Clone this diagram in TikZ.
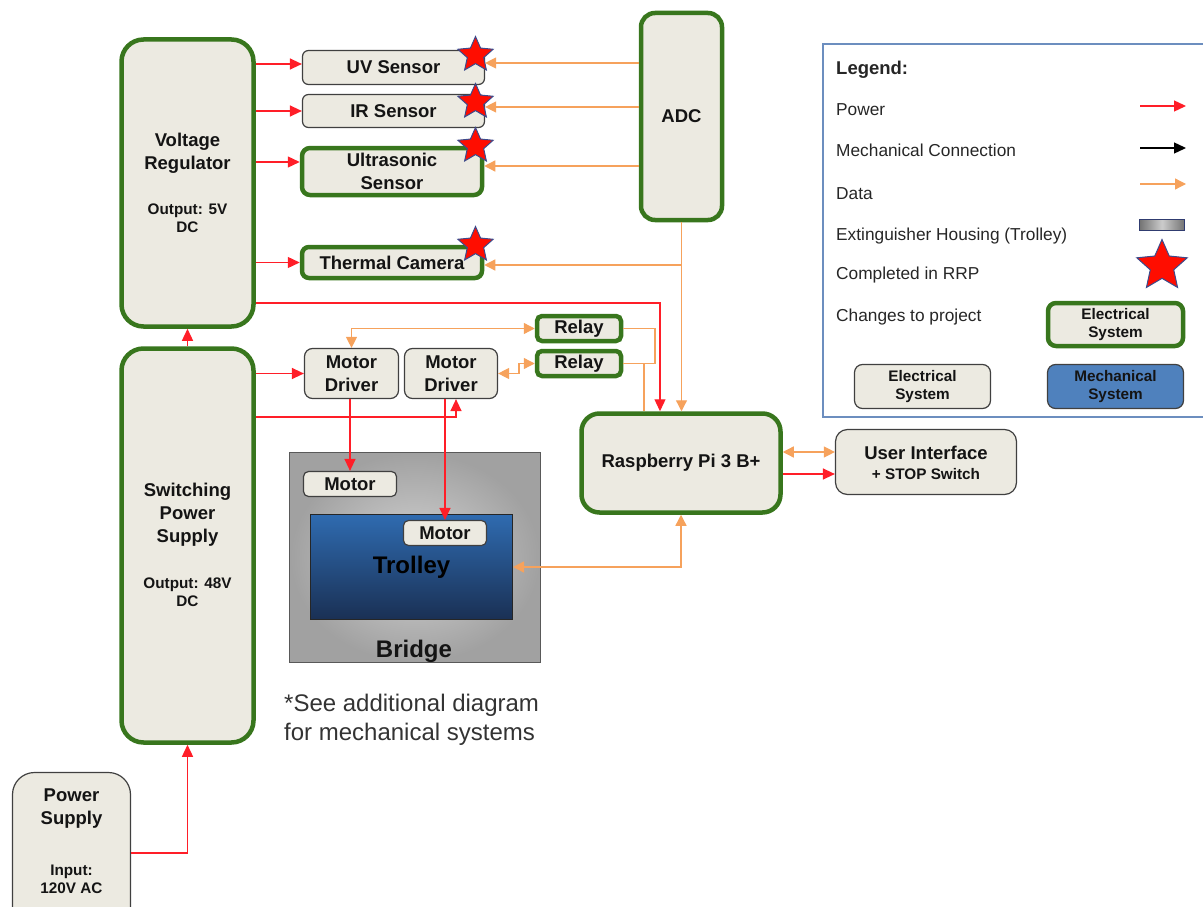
\documentclass[tikz,border=0pt]{standalone}
\usepackage{fontspec}
\setmainfont{Liberation Sans}
\usetikzlibrary{arrows.meta,shapes.geometric,calc}
\definecolor{beige}{RGB}{236,234,225}
\definecolor{grn}{RGB}{56,118,29}
\definecolor{org}{RGB}{246,162,92}
\definecolor{rd}{RGB}{255,30,40}
\definecolor{lgb}{RGB}{108,142,191}
\definecolor{mech}{RGB}{79,129,189}
\definecolor{txt}{RGB}{20,20,20}
\definecolor{stb}{RGB}{60,75,140}
\definecolor{trtop}{RGB}{47,107,176}
\definecolor{trbot}{RGB}{26,48,84}
\newcommand{\fbig}{\fontsize{18.5}{23}\selectfont\bfseries}
\newcommand{\fsm}{\fontsize{15.3}{18}\selectfont\bfseries}
\newcommand{\flg}{\fontsize{17.3}{21}\selectfont}
\tikzset{
 ebox/.style={draw=black!75, line width=1.2pt, fill=beige, rounded corners=6pt, inner sep=0pt, text=txt, font=\fbig, align=center},
 gbox/.style={draw=grn, line width=4.5pt, fill=beige, rounded corners=10pt, inner sep=0pt, text=txt, font=\fbig, align=center},
 txtb/.style={inner sep=0pt, text=txt, font=\fbig, align=center},
 txts/.style={inner sep=0pt, text=txt, font=\fsm, align=center},
 lgtxt/.style={inner sep=0pt, text=black!85, font=\flg, anchor=base west},
 pw/.style={draw=rd, line width=1.3pt, -{Triangle[length=12pt,width=11pt]}},
 dt/.style={draw=org, line width=1.3pt, -{Triangle[length=11pt,width=11pt]}},
 dtb/.style={draw=org, line width=1.3pt, {Triangle[length=11pt,width=11pt]}-{Triangle[length=11pt,width=11pt]}},
 dtl/.style={draw=org, line width=1.3pt},
 rrpstar/.style={star, star points=5, star point ratio=2.15, fill=red!90!orange, draw=stb, line width=1pt, inner sep=0pt},
}
\begin{document}
\begin{tikzpicture}[x=1pt,y=-1pt]
\useasboundingbox (0,0) rectangle (1203,907);
\clip (0,0) rectangle (1203,907);

% ---------- power blocks ----------
\node[gbox, rounded corners=22pt, minimum width=132pt, minimum height=287pt] (vr) at (187.5,183) {};
\node[txtb] (vrt) at (187.5,153.5) {Voltage\\Regulator};
\node[txts] (vrs) at (187.5,218.5) {Output: 5V\\DC};

\node[gbox, rounded corners=22pt, minimum width=132pt, minimum height=394pt] (sps) at (187.5,545.5) {};
\node[txtb] (spst) at (187.5,515) {Switching\\Power\\Supply};
\node[txts] (spss) at (187.5,592.5) {Output: 48V\\DC};

\node[ebox, rounded corners=22pt, minimum width=118pt, minimum height=161pt] (ps) at (71.5,853) {};
\node[txtb] (pst) at (71.5,809) {Power\\Supply};
\node[txts] (pss) at (71.5,879) {Input:\\120V AC};

% ---------- sensors ----------
\node[ebox, minimum width=182pt, minimum height=34pt] (uv) at (393.5,67.5) {UV Sensor};
\node[ebox, minimum width=182pt, minimum height=33pt] (ir) at (393.5,111) {IR Sensor};
\node[gbox, rounded corners=8pt, minimum width=180pt, minimum height=47pt] (us) at (392,171.5) {Ultrasonic\\Sensor};
\node[gbox, rounded corners=7pt, minimum width=180pt, minimum height=31pt] (tc) at (392,262.5) {Thermal Camera};

\node[gbox, rounded corners=14pt, minimum width=81pt, minimum height=207pt] (adc) at (681.5,116.5) {ADC};

% ---------- relays / drivers ----------
\node[gbox, rounded corners=5pt, minimum width=84pt, minimum height=25pt] (rl1) at (579,328.5) {Relay};
\node[gbox, rounded corners=5pt, minimum width=84pt, minimum height=25pt] (rl2) at (579,363.5) {Relay};
\node[ebox, rounded corners=8pt, minimum width=94pt, minimum height=50pt] (md1) at (351.5,373.5) {Motor\\Driver};
\node[ebox, rounded corners=8pt, minimum width=93pt, minimum height=50pt] (md2) at (451,373.5) {Motor\\Driver};

% ---------- bridge / trolley ----------
\node[draw=black!65, line width=1pt, shading=radial, inner color=black!17, outer color=black!37, minimum width=251pt, minimum height=210pt] (bridge) at (415,557.5) {};
\node[txtb, font=\fontsize{24}{28}\selectfont\bfseries] (bridget) at (414,651) {Bridge};
\node[ebox, rounded corners=5pt, minimum width=93pt, minimum height=25pt] (mot1) at (350,484) {Motor};
\node[draw=black!85, line width=1pt, top color=trtop, bottom color=trbot, minimum width=202pt, minimum height=105pt, inner sep=0pt, text=black, font=\fontsize{24}{28}\selectfont\bfseries] (trolley) at (411.5,567) {Trolley};
\node[ebox, rounded corners=5pt, minimum width=83pt, minimum height=25pt] (mot2) at (445,533) {Motor};

% ---------- controller / UI ----------
\node[gbox, rounded corners=18pt, minimum width=199pt, minimum height=99pt] (rpi) at (681,463) {Raspberry Pi 3 B+};
\node[ebox, rounded corners=12pt, minimum width=181pt, minimum height=65pt] (ui) at (926,462) {};
\node[txtb] (uit) at (926,453) {User Interface};
\node[txts] (uis) at (926,474.5) {+ STOP Switch};

% ---------- stars ----------
\node[rrpstar, minimum size=37pt] (st1) at (475.5,55) {};
\node[rrpstar, minimum size=37pt] (st2) at (475.5,102) {};
\node[rrpstar, minimum size=37pt] (st3) at (475.5,146) {};
\node[rrpstar, minimum size=37pt] (st4) at (475.5,245) {};

% ---------- power connectors ----------
\draw[pw] (ps.east) -| (sps.south);
\draw[pw] (sps.north) -- (vr.south);
\coordinate (uvin) at ([yshift=3.5pt]uv.west);
\coordinate (irin) at (ir.west);
\coordinate (usin) at ([yshift=9.5pt]us.west);
\coordinate (tcin) at (tc.west);
\draw[pw] (vr.east |- uvin) -- (uvin);
\draw[pw] (vr.east |- irin) -- (irin);
\draw[pw] (vr.east |- usin) -- (usin);
\draw[pw] (vr.east |- tcin) -- (tcin);
\coordinate (r1) at (660,303);
\draw[pw] (vr.east |- r1) -| (r1 |- rpi.north);
\draw[pw] (sps.east |- md1.west) -- (md1.west);
\coordinate (r2) at (456,417);
\draw[pw] (sps.east |- r2) -| (r2 |- md2.south);
\draw[pw] (md1.south -| mot1.north) -- (mot1.north);
\draw[pw] (md2.south -| mot2.north) -- (mot2.north);
\coordinate (rb) at ([yshift=-11pt]rpi.east);
\draw[pw] (rb) -- (rb -| ui.west);

% ---------- data connectors ----------
\coordinate (uvout) at ([yshift=4.5pt]uv.east);
\coordinate (irout) at ([yshift=4pt]ir.east);
\coordinate (usout) at ([yshift=5.5pt]us.east);
\coordinate (tcout) at ([yshift=-2.5pt]tc.east);
\draw[dt] (adc.west |- uvout) -- (uvout);
\draw[dt] (adc.west |- irout) -- (irout);
\draw[dt] (adc.west |- usout) -- (usout);
\draw[dt] (adc.south) -- (adc.south |- rpi.north);
\draw[dt] (adc.south |- tcout) -- (tcout);
\draw[dtb] (md1.north) |- (rl1.west);
\draw[dtb] (md2.east) -- ++(21,0) |- (rl2.west);
\coordinate (rj) at (655,363.5);
\coordinate (rk) at (644,363.5);
\draw[dtl] (rl1.east) -| (rj) -- (rl2.east);
\draw[dtl] (rk) -- (rk |- rpi.north);
\draw[dtb] (trolley.east) -| (rpi.south);
\coordinate (ra) at ([yshift=11pt]rpi.east);
\draw[dtb] (ra) -- (ra -| ui.west);

% ---------- note ----------
\node[inner sep=0pt, anchor=north west, align=left, text=black!80, font=\fontsize{24}{29}\selectfont] (note) at (284,694) {*See additional diagram\\for mechanical systems};

% ---------- legend ----------
\draw[lgb, line width=1.5pt] (823,44) rectangle (1215,417);
\node[lgtxt, font=\fontsize{18.5}{22}\selectfont\bfseries] (lgt) at (836,75) {Legend:};
\node[lgtxt] (lg1) at (836,116) {Power};
\node[lgtxt] (lg2) at (836,157) {Mechanical Connection};
\node[lgtxt] (lg3) at (836,199) {Data};
\node[lgtxt] (lg4) at (836,240) {Extinguisher Housing (Trolley)};
\node[lgtxt] (lg5) at (836,279) {Completed in RRP};
\node[lgtxt] (lg6) at (836,321) {Changes to project};
\coordinate (la1) at (1140,106); \coordinate (lb1) at (1186,106);
\coordinate (la2) at (1140,148); \coordinate (lb2) at (1186,148);
\coordinate (la3) at (1140,184); \coordinate (lb3) at (1186,184);
\draw[pw] (la1) -- (lb1);
\draw[line width=1.3pt, -{Triangle[length=12pt,width=11pt]}] (la2) -- (lb2);
\draw[dt] (la3) -- (lb3);
\node[draw=stb!80!black, line width=1pt, left color=black!55, right color=black!55, middle color=black!20, minimum width=45pt, minimum height=11pt, inner sep=0pt] (lgh) at (1162,225) {};
\node[rrpstar, minimum size=53pt] (lgs) at (1162,266) {};
\node[gbox, font=\fsm, rounded corners=8pt, minimum width=135pt, minimum height=43pt] (lge1) at (1115.5,324.5) {Electrical\\System};
\node[ebox, font=\fsm, rounded corners=8pt, minimum width=136pt, minimum height=44pt] (lge2) at (922.5,386.5) {Electrical\\System};
\node[ebox, font=\fsm, fill=mech, rounded corners=8pt, minimum width=136pt, minimum height=44pt] (lgm) at (1115.5,386.5) {Mechanical\\System};
\end{tikzpicture}
\end{document}
